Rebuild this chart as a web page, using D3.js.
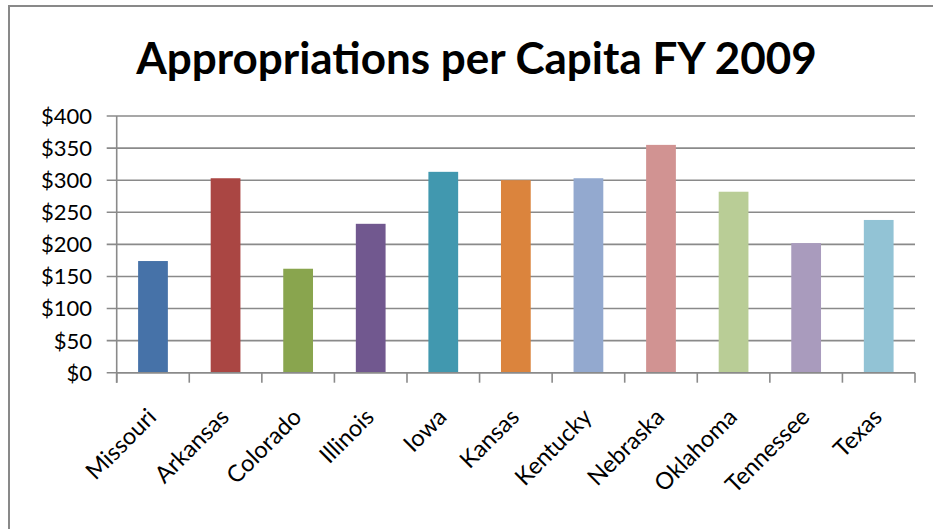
<!DOCTYPE html>
<html>
<head>
<meta charset="utf-8">
<script src="https://cdn.jsdelivr.net/npm/d3@7"></script>
<style>
  html, body { margin: 0; padding: 0; background: #fff; }
  svg { display: block; }
</style>
</head>
<body>
<svg id="chart" width="933" height="529"></svg>
<script>
const categories = ["Missouri","Arkansas","Colorado","Illinois","Iowa","Kansas","Kentucky","Nebraska","Oklahoma","Tennessee","Texas"];
const values = [174, 303, 162, 232, 313, 300, 303, 355, 282, 202, 238];
const colors = ["#4672A8","#AA4643","#89A54E","#71588F","#4198AF","#DB843D","#93A9CF","#D19392","#B9CD96","#A99BBD","#92C3D5"];
const yTicks = [0, 50, 100, 150, 200, 250, 300, 350, 400];
const title = "Appropriations per Capita FY 2009";

(function () {
const svg = d3.select("#chart");
const font = "Lato, 'Open Sans', sans-serif";

// outer frame
svg.append("path")
  .attr("d", "M9,529 L9,6 L933,6")
  .attr("fill", "none").attr("stroke", "#898989").attr("stroke-width", 2);

const pl = 116.7, pr = 915, pt = 116, pb = 372.7;
const x = d3.scaleBand().domain(categories).range([pl, pr]).paddingInner(0.59).paddingOuter(0.295);
const xb = d3.scaleBand().domain(categories).range([pl, pr]);
const y = d3.scaleLinear().domain([0, 400]).range([pb, pt]);

// title
svg.append("text")
  .attr("x", 476.5).attr("y", 74)
  .attr("text-anchor", "middle")
  .attr("font-family", font).attr("font-weight", "bold").attr("font-size", 44)
  .attr("fill", "#000")
  .text(title);

// gridlines
svg.append("g").selectAll("line").data(yTicks).join("line")
  .attr("x1", pl - 10).attr("x2", pr)
  .attr("y1", d => y(d)).attr("y2", d => y(d))
  .attr("stroke", "#8a8a8a").attr("stroke-width", 1.6);

// y labels
svg.append("g").selectAll("text").data(yTicks).join("text")
  .attr("x", 92).attr("y", d => y(d))
  .attr("dy", "0.36em")
  .attr("text-anchor", "end")
  .attr("font-family", font).attr("font-size", 22).attr("fill", "#000")
  .text(d => "$" + d);

// bars
svg.append("g").selectAll("rect").data(categories).join("rect")
  .attr("x", d => x(d))
  .attr("width", x.bandwidth())
  .attr("y", (d, i) => y(values[i]))
  .attr("height", (d, i) => y(0) - y(values[i]))
  .attr("fill", (d, i) => colors[i]);

// axes lines
svg.append("line").attr("x1", pl).attr("x2", pl).attr("y1", pt).attr("y2", pb + 10)
  .attr("stroke", "#8a8a8a").attr("stroke-width", 1.6);
svg.append("line").attr("x1", pl).attr("x2", pr).attr("y1", pb).attr("y2", pb)
  .attr("stroke", "#8a8a8a").attr("stroke-width", 1.6);

// x ticks
const tickPos = categories.map(c => xb(c)).concat([pr]);
svg.append("g").selectAll("line").data(tickPos).join("line")
  .attr("x1", d => d).attr("x2", d => d)
  .attr("y1", pb).attr("y2", pb + 10)
  .attr("stroke", "#8a8a8a").attr("stroke-width", 1.6);

// x labels
svg.append("g").selectAll("text").data(categories).join("text")
  .attr("transform", d => `translate(${xb(d) + xb.bandwidth() / 2 - 1},${pb + 40}) rotate(-45)`)
  .attr("text-anchor", "end")
  .attr("dy", "0.35em")
  .attr("font-family", font).attr("font-size", 23.5).attr("fill", "#000")
  .text(d => d);
})();
</script>
</body>
</html>
